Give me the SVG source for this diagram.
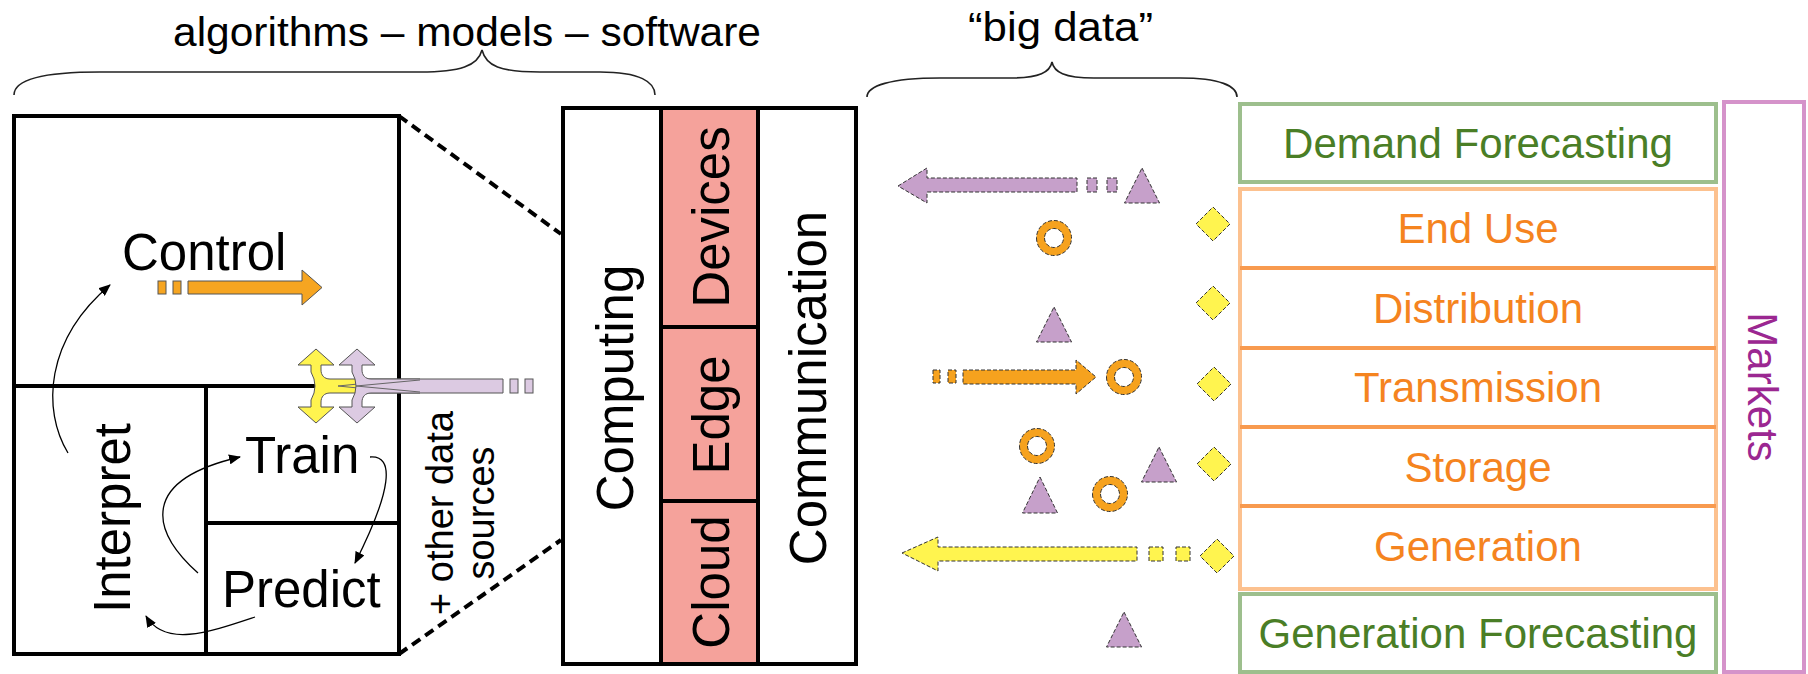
<svg xmlns="http://www.w3.org/2000/svg" width="1808" height="674" viewBox="0 0 1808 674">
<style>
text{font-family:"Liberation Sans",Arial,sans-serif;}
.lbl{font-size:51px;fill:#000;}
.box{fill:none;stroke:#000;stroke-width:4;}
.sbox{fill:#f5a29b;stroke:#000;stroke-width:4;}
.thin{fill:none;stroke:#000;stroke-width:1.3;}
.brace{fill:none;stroke:#222;stroke-width:1.6;}
.dash{fill:none;stroke:#000;stroke-width:4;stroke-dasharray:10 6;}
.pur{fill:#c6a0ca;stroke:#333;stroke-width:1;stroke-dasharray:4 2;}
.yel{fill:#fff44f;stroke:#333;stroke-width:1;stroke-dasharray:4 2;}
.org{fill:#f6a21e;stroke:#333;stroke-width:1;stroke-dasharray:4 2;fill-rule:evenodd;}
.grn{fill:#fff;stroke:#9dbf8d;stroke-width:4;}
.gtx{font-size:42px;fill:#4a7e26;}
.otx{font-size:42px;fill:#f5841f;}
</style>
<defs>
<marker id="ah" viewBox="0 0 12 10" refX="11" refY="5" markerWidth="12" markerHeight="10" markerUnits="userSpaceOnUse" orient="auto">
<path d="M0,0 L12,5 L0,10 Z" fill="#000"/>
</marker>
</defs>

<!-- Headings -->
<g id="title-algorithms">
<text x="173" y="46" font-size="41" textLength="588" lengthAdjust="spacingAndGlyphs">algorithms – models – software</text>
<path class="brace" d="M14,95 C14,80 40,72 100,72 L420,72 C460,72 478,66 482,50 C486,66 500,72 540,72 L600,72 C640,72 655,82 655,95"/>
</g>
<g id="title-bigdata">
<text x="968" y="41" font-size="40" textLength="185" lengthAdjust="spacingAndGlyphs">“big data”</text>
<path class="brace" d="M867,97 C867,86 890,78 940,78 L1010,78 C1040,78 1050,72 1052,62 C1054,72 1064,78 1094,78 L1180,78 C1220,78 1237,86 1237,97"/>
</g>

<!-- Left model block -->
<g id="control">
<rect class="box" x="14" y="116" width="385" height="270"/>
<text class="lbl" x="122" y="270">Control</text>
<rect x="158" y="281" width="8" height="13" fill="#f6a521" stroke="#555" stroke-width="1"/>
<rect x="173" y="281" width="8" height="13" fill="#f6a521" stroke="#555" stroke-width="1"/>
<path d="M188,281 L302,281 L302,270 L322,287.5 L302,305 L302,294 L188,294 Z" fill="#f6a521" stroke="#555" stroke-width="1"/>
</g>
<g id="interpret">
<rect class="box" x="14" y="386" width="192" height="268"/>
<text class="lbl" transform="translate(130,518) rotate(-90)" text-anchor="middle" font-size="53">Interpret</text>
</g>
<g id="train">
<rect class="box" x="206" y="386" width="193" height="137"/>
<text class="lbl" x="245" y="473">Train</text>
</g>
<g id="predict">
<rect class="box" x="206" y="523" width="193" height="131"/>
<text class="lbl" x="222" y="607">Predict</text>
</g>
<g id="data-sources">
<path d="M420,379 L330,379 C324,379 321,375 321,370 L321,365 L334,365 L316,349 L298,365 L311,365 L311,372 Q319,386 311,400 L311,407 L298,407 L316,423 L334,407 L321,407 L321,402 C321,397 324,393 330,393 L420,393 Z" fill="#fff44f" stroke="#555" stroke-width="1"/>
<path d="M358,384 L338,386 L358,388" fill="none" stroke="#666" stroke-width="1"/>
<path d="M503,379 L371,379 C365,379 362,375 362,370 L362,365 L375,365 L357,349 L339,365 L352,365 L352,372 Q360,386 352,400 L352,407 L339,407 L357,423 L375,407 L362,407 L362,402 C362,397 365,393 371,393 L503,393 Z" fill="#dccae2" stroke="#555" stroke-width="1"/>
<path d="M420,380 L356,386 L420,392" fill="none" stroke="#666" stroke-width="1"/>
<rect x="510" y="379" width="8" height="14" fill="#dccae2" stroke="#555" stroke-width="1"/>
<rect x="525" y="379" width="8" height="14" fill="#dccae2" stroke="#555" stroke-width="1"/>
<text transform="translate(453,513) rotate(-90)" text-anchor="middle" font-size="38"><tspan x="0" y="0">+ other data</tspan><tspan x="0" y="41">sources</tspan></text>
</g>

<!-- Computing stack -->
<g id="computing">
<rect class="box" x="563" y="108" width="98" height="556"/>
<text class="lbl" transform="translate(633,388) rotate(-90)" text-anchor="middle" font-size="52">Computing</text>
</g>
<g id="devices">
<rect class="sbox" x="661" y="108" width="97" height="219"/>
<text class="lbl" transform="translate(729,217) rotate(-90)" text-anchor="middle" font-size="52">Devices</text>
</g>
<g id="edge">
<rect class="sbox" x="661" y="327" width="97" height="174"/>
<text class="lbl" transform="translate(729,415) rotate(-90)" text-anchor="middle" font-size="52">Edge</text>
</g>
<g id="cloud">
<rect class="sbox" x="661" y="501" width="97" height="163"/>
<text class="lbl" transform="translate(729,582) rotate(-90)" text-anchor="middle" font-size="52">Cloud</text>
</g>
<g id="communication">
<rect class="box" x="758" y="108" width="98" height="556"/>
<text class="lbl" transform="translate(826,388) rotate(-90)" text-anchor="middle" font-size="52">Communication</text>
</g>

<!-- Big data scatter -->
<g id="big-data">
<path class="pur" d="M898,186 L927,168 L927,178 L1077,178 L1077,192 L927,192 L927,203 Z"/>
<rect class="pur" x="1087" y="178" width="10" height="14"/>
<rect class="pur" x="1107" y="178" width="10" height="14"/>
<path class="yel" d="M902,553 L938,537 L938,547 L1137,547 L1137,561 L938,561 L938,571 Z"/>
<rect class="yel" x="1149" y="547" width="14" height="14"/>
<rect class="yel" x="1176" y="547" width="14" height="14"/>
<rect class="org" x="933" y="370" width="7" height="13"/>
<rect class="org" x="948" y="370" width="8" height="13"/>
<path class="org" d="M963,370 L1076,370 L1076,360 L1096,377 L1076,394 L1076,384 L963,384 Z"/>
<polygon class="pur" points="1142,168 1159.5,203 1124.5,203"/>
<polygon class="pur" points="1054,307 1071.5,342 1036.5,342"/>
<polygon class="pur" points="1159,447 1176.5,482 1141.5,482"/>
<polygon class="pur" points="1040,477 1057.5,513 1022.5,513"/>
<polygon class="pur" points="1124,612 1141.5,647 1106.5,647"/>
<path class="org" d="M1036.5,238 a17.5,17.5 0 1,0 35,0 a17.5,17.5 0 1,0 -35,0 Z M1044.5,238 a9.5,9.5 0 1,0 19,0 a9.5,9.5 0 1,0 -19,0 Z"/>
<path class="org" d="M1106.5,377 a17.5,17.5 0 1,0 35,0 a17.5,17.5 0 1,0 -35,0 Z M1114.5,377 a9.5,9.5 0 1,0 19,0 a9.5,9.5 0 1,0 -19,0 Z"/>
<path class="org" d="M1019.5,446 a17.5,17.5 0 1,0 35,0 a17.5,17.5 0 1,0 -35,0 Z M1027.5,446 a9.5,9.5 0 1,0 19,0 a9.5,9.5 0 1,0 -19,0 Z"/>
<path class="org" d="M1092.5,494 a17.5,17.5 0 1,0 35,0 a17.5,17.5 0 1,0 -35,0 Z M1100.5,494 a9.5,9.5 0 1,0 19,0 a9.5,9.5 0 1,0 -19,0 Z"/>
<polygon class="yel" points="1213,207 1230,224 1213,241 1196,224"/>
<polygon class="yel" points="1213,286 1230,303 1213,320 1196,303"/>
<polygon class="yel" points="1214,367 1231,384 1214,401 1197,384"/>
<polygon class="yel" points="1214,447 1231,464 1214,481 1197,464"/>
<polygon class="yel" points="1217,539 1234,556 1217,573 1200,556"/>
</g>

<!-- Energy system -->
<g id="demand-forecasting">
<rect class="grn" x="1240" y="104" width="476" height="78"/>
<text class="gtx" x="1478" y="158" text-anchor="middle">Demand Forecasting</text>
</g>
<g id="grid">
<rect x="1240" y="189" width="476" height="400" fill="#fff" stroke="#fcc18f" stroke-width="4"/>
<g stroke="#f89a4f" stroke-width="4">
<line x1="1240" y1="268" x2="1716" y2="268"/>
<line x1="1240" y1="348" x2="1716" y2="348"/>
<line x1="1240" y1="427" x2="1716" y2="427"/>
<line x1="1240" y1="506" x2="1716" y2="506"/>
</g>
</g>
<g id="end-use"><text class="otx" x="1478" y="243" text-anchor="middle">End Use</text></g>
<g id="distribution"><text class="otx" x="1478" y="323" text-anchor="middle">Distribution</text></g>
<g id="transmission"><text class="otx" x="1478" y="402" text-anchor="middle">Transmission</text></g>
<g id="storage"><text class="otx" x="1478" y="482" text-anchor="middle">Storage</text></g>
<g id="generation"><text class="otx" x="1478" y="561" text-anchor="middle">Generation</text></g>
<g id="generation-forecasting">
<rect class="grn" x="1240" y="594" width="476" height="78"/>
<text class="gtx" x="1478" y="648" text-anchor="middle">Generation Forecasting</text>
</g>
<g id="markets">
<rect x="1724" y="102" width="80" height="570" fill="#fff" stroke="#d593ca" stroke-width="4"/>
<text transform="translate(1748,387) rotate(90)" text-anchor="middle" font-size="42" fill="#9b2791">Markets</text>
</g>

<!-- Connectors -->
<g id="connectors">
<path class="thin" marker-end="url(#ah)" d="M68,453 C42,410 45,340 110,285"/>
<path class="thin" marker-end="url(#ah)" d="M198,573 C150,530 140,480 240,457"/>
<path class="thin" marker-end="url(#ah)" d="M370,457 C395,455 392,490 355,563"/>
<path class="thin" marker-end="url(#ah)" d="M255,617 C210,632 165,648 146,616"/>
<line class="dash" x1="399" y1="116" x2="561" y2="234"/>
<line class="dash" x1="399" y1="654" x2="561" y2="540"/>
</g>
</svg>
